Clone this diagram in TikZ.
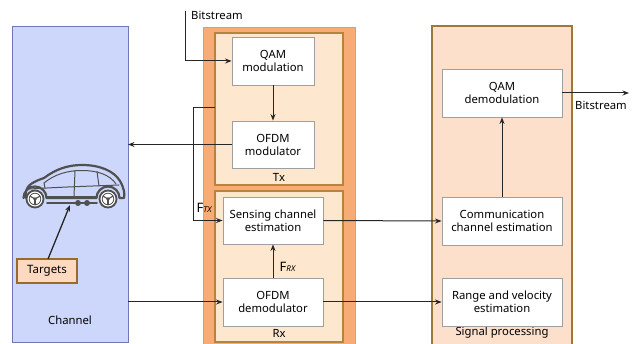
\documentclass[tikz,border=0pt]{standalone}
\usepackage{fontspec}
\setmainfont{Noto Sans}
\usetikzlibrary{arrows.meta}
\definecolor{chanfill}{HTML}{CDD6FB}
\definecolor{chanline}{HTML}{6F79B5}
\definecolor{outerfill}{HTML}{F7AB75}
\definecolor{outerline}{HTML}{E89A60}
\definecolor{trxfill}{HTML}{FDE7CF}
\definecolor{trxline}{HTML}{B8843C}
\definecolor{spfill}{HTML}{FDE0CC}
\definecolor{spline}{HTML}{9E7838}
\definecolor{tgtfill}{HTML}{FDD9C0}
\definecolor{tgtline}{HTML}{9A6A2A}
\definecolor{carline}{HTML}{505050}
\tikzset{
  blk/.style={draw=gray!75, fill=white, line width=0.9pt, align=center,
    inner sep=0pt, font=\fontsize{11.3}{13}\selectfont},
  lbl/.style={inner sep=0pt, font=\fontsize{11.3}{13}\selectfont},
  conn/.style={line width=1pt, draw=black!85, -{Stealth[length=6.5pt,width=5pt]}},
  carbody/.style={draw=carline, line width=2.2pt, line join=round, line cap=round},
  cardetail/.style={draw=carline, line width=1pt, line cap=round},
}
\begin{document}
\begin{tikzpicture}[x=1pt,y=-1pt]
\useasboundingbox (0,0) rectangle (634,344);

% frames
\draw[fill=chanfill, draw=chanline, line width=1pt] (12,27) rectangle (128,342);
\draw[fill=outerfill, draw=outerline, line width=0.8pt] (203,27) rectangle (355,352);
\draw[fill=trxfill, draw=trxline, line width=1.3pt] (215,33) rectangle (343,185);
\draw[fill=trxfill, draw=trxline, line width=1.3pt] (215,191) rectangle (343,342);
\draw[fill=spfill, draw=spline, line width=1.3pt] (432,26) rectangle (572,352);

\node[lbl] (chanlbl) at (70,320) {Channel};
\node[lbl] (txlbl) at (279,177) {Tx};
\node[lbl] (rxlbl) at (279,333) {Rx};
\node[lbl] (splbl) at (502,333) {Signal processing};

% processing blocks
\node[blk, minimum width=82pt, minimum height=48pt] (qam) at (273,61) {QAM\\modulation};
\node[blk, minimum width=82pt, minimum height=47pt] (ofdm) at (273,144.5) {OFDM\\modulator};
\node[blk, minimum width=100pt, minimum height=47pt] (sens) at (273,220.5) {Sensing channel\\estimation};
\node[blk, minimum width=100pt, minimum height=48pt] (demod) at (273,302) {OFDM\\demodulator};
\node[blk, minimum width=120pt, minimum height=48pt] (qamd) at (502,93) {QAM\\demodulation};
\node[blk, minimum width=120pt, minimum height=48pt] (comm) at (502,221) {Communication\\channel estimation};
\node[blk, minimum width=120pt, minimum height=48pt] (range) at (502,302) {Range and velocity\\estimation};

% vehicle
\draw[carbody] (26,198) -- (26,191)
  .. controls (27,185) and (35,181) .. (44,178)
  .. controls (56,169) and (68,165) .. (82,165)
  .. controls (100,165) and (114,171) .. (120,181)
  .. controls (124,188) and (125,194) .. (124,198)
  -- (119.5,198) arc[start angle=0, end angle=-180, radius=11.5]
  -- (46.5,198) arc[start angle=0, end angle=-180, radius=11.5];
\draw[cardetail] (44,183) .. controls (55,174) and (68,170.5) .. (82,170.5)
  .. controls (98,170.5) and (110,175) .. (116,184);
\draw[cardetail] (30,189) .. controls (60,187) and (95,186) .. (119,185);
\draw[cardetail] (44,183) -- (45,188);
\draw[cardetail] (75,170.5) -- (74,197);
\draw[cardetail] (97,171.5) -- (99,186);
\draw[cardetail] (47,197) -- (96,197);
\draw[carbody, line width=1.6pt] (47,203) -- (97,203);
\fill[carline] (78,203) circle (3pt) (87,203) circle (3pt);
\foreach \wx in {35,108}{
  \draw[carbody, line width=1.8pt, fill=white] (\wx,199) circle (8.5pt);
  \draw[cardetail, line width=0.8pt] (\wx,199) circle (5.8pt);
  \fill[carline] (\wx,199) circle (1.8pt);
  \foreach \a in {-90,30,150}
    \draw[cardetail, line width=1.1pt] (\wx,199) -- ++(\a:5.8pt);
}

% targets
\node[draw=tgtline, fill=tgtfill, line width=1.3pt, minimum width=60pt, minimum height=24pt,
  inner sep=0pt, font=\fontsize{11.5}{13}\selectfont] (tgt) at (47,271) {Targets};
\coordinate (carpt) at (70,205);
\coordinate (tgttop) at (48,259);
\draw[conn, line width=1.3pt] (tgttop) -- (carpt);

% connectors
\coordinate (bsin) at (185,11);
\node[lbl, anchor=west] (bsinlbl) at (191,15) {Bitstream};
\draw[conn] (bsin) |- (qam.west);
\draw[conn] (qam.south) -- (ofdm.north);
\draw[conn] (ofdm.west) -- (ofdm.west -| 128,0);
\coordinate (fbstart) at (215,108);
\coordinate (fbcorner) at (193,108);
\draw[conn] (fbstart) -- (fbcorner) |- (sens.west);
\node[inner sep=0pt, anchor=west] (ftx) at (196.5,207.5)
  {\fontsize{13}{14}\selectfont F\fontsize{8}{9}\selectfont\itshape TX};
\draw[conn] (demod.west -| 128,0) -- (demod.west);
\draw[conn] (demod.north) -- (sens.south);
\node[inner sep=0pt, anchor=west] (frx) at (279.5,267)
  {\fontsize{13}{14}\selectfont F\fontsize{8}{9}\selectfont\itshape RX};
\draw[conn] (sens.east) -- (comm.west);
\draw[conn] (demod.east) -- (range.west);
\draw[conn] (comm.north) -- (qamd.south);
\coordinate (bsout) at (629,93);
\draw[conn] (qamd.east) -- (bsout);
\node[lbl] (bsoutlbl) at (601,105) {Bitstream};
\end{tikzpicture}
\end{document}
